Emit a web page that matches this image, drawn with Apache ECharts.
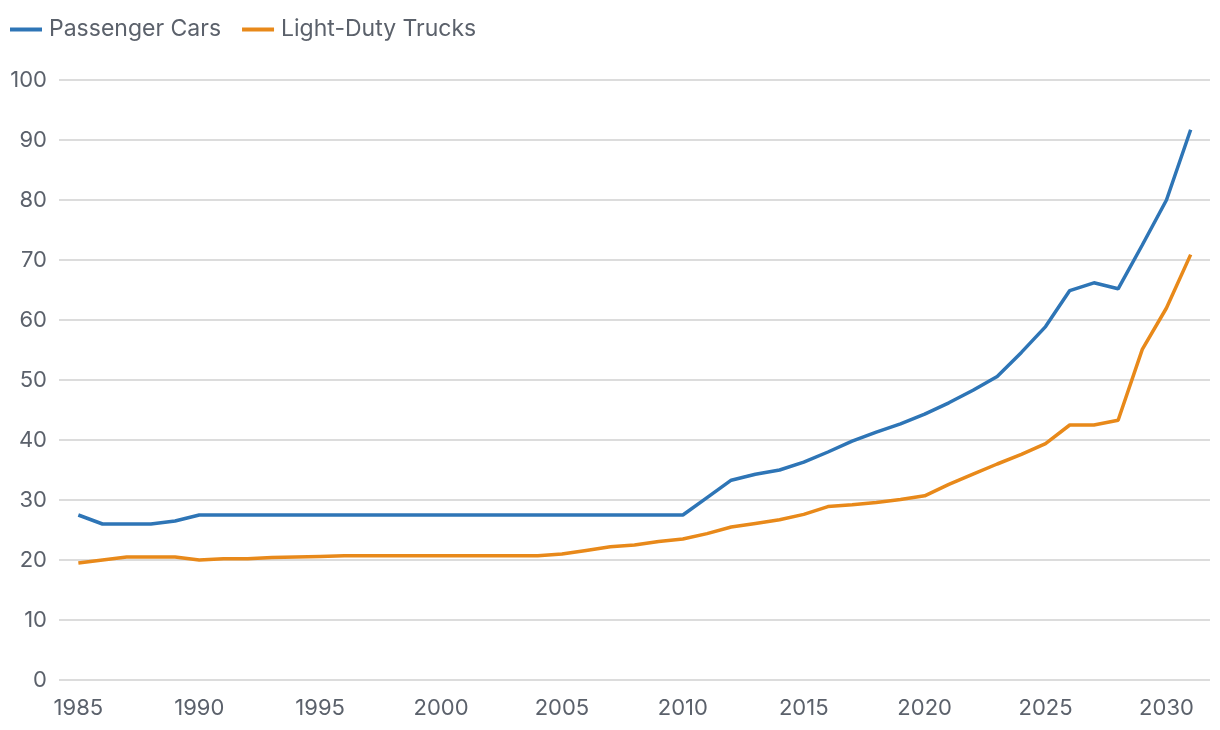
<!DOCTYPE html>
<html>
<head>
<meta charset="utf-8">
<script src="https://cdn.jsdelivr.net/npm/echarts@6/dist/echarts.min.js"></script>
<style>
html,body{margin:0;padding:0;background:#fff;}
#chart{width:1220px;height:730px;}
</style>
</head>
<body>
<div id="chart"></div>
<script>
const years = [];
for (let y = 1985; y <= 2031; y++) years.push(y);

const passengerCars = [
  27.5, 26.0, 26.0, 26.0, 26.5, 27.5, 27.5, 27.5, 27.5, 27.5,
  27.5, 27.5, 27.5, 27.5, 27.5, 27.5, 27.5, 27.5, 27.5, 27.5,
  27.5, 27.5, 27.5, 27.5, 27.5, 27.5, 30.4, 33.3, 34.3, 35.0,
  36.3, 38.0, 39.8, 41.3, 42.7, 44.3, 46.2, 48.3, 50.6, 54.6,
  58.9, 64.9, 66.2, 65.2, 72.5, 80.0, 91.7
];
const lightTrucks = [
  19.5, 20.0, 20.5, 20.5, 20.5, 20.0, 20.2, 20.2, 20.4, 20.5,
  20.6, 20.7, 20.7, 20.7, 20.7, 20.7, 20.7, 20.7, 20.7, 20.7,
  21.0, 21.6, 22.2, 22.5, 23.1, 23.5, 24.4, 25.5, 26.1, 26.7,
  27.6, 28.9, 29.2, 29.6, 30.1, 30.7, 32.6, 34.3, 36.0, 37.6,
  39.4, 42.5, 42.5, 43.3, 55.1, 62.0, 70.9
];
const xTickLabels = [1985, 1990, 1995, 2000, 2005, 2010, 2015, 2020, 2025, 2030];

const textColor = '#5b616b';
const fontFamily = 'Inter, "Noto Sans", sans-serif';

const chart = echarts.init(document.getElementById('chart'));
chart.setOption({
  animation: false,
  backgroundColor: '#ffffff',
  textStyle: { fontFamily: fontFamily },
  legend: {
    left: 10,
    top: 18,
    padding: 0,
    itemWidth: 32,
    itemHeight: 4,
    itemGap: 21,
    icon: 'rect',
    textStyle: { color: textColor, fontSize: 23, fontFamily: fontFamily, padding: [0, 0, 0, 2] },
    data: ['Passenger Cars', 'Light-Duty Trucks']
  },
  grid: { left: 59, right: 10, top: 80, bottom: 50, containLabel: false },
  xAxis: {
    type: 'value',
    min: 1984.2,
    max: 2031.8,
    splitLine: { show: false },
    axisLine: { show: false },
    axisTick: { show: false },
    axisLabel: {
      customValues: xTickLabels,
      color: textColor,
      fontSize: 22,
      margin: 17,
      fontFamily: fontFamily,
      formatter: v => String(v)
    }
  },
  yAxis: {
    type: 'value',
    min: 0,
    max: 100,
    interval: 10,
    axisLine: { show: false },
    axisTick: { show: false },
    splitLine: { lineStyle: { color: '#d0d0d0', width: 1.6 } },
    axisLabel: { color: textColor, fontSize: 22, margin: 12, fontFamily: fontFamily }
  },
  series: [
    {
      name: 'Passenger Cars',
      type: 'line',
      data: years.map((y, i) => [y, passengerCars[i]]),
      showSymbol: false,
      symbol: 'none',
      lineStyle: { color: '#2e75b6', width: 3.5 },
      itemStyle: { color: '#2e75b6' }
    },
    {
      name: 'Light-Duty Trucks',
      type: 'line',
      data: years.map((y, i) => [y, lightTrucks[i]]),
      showSymbol: false,
      symbol: 'none',
      lineStyle: { color: '#e8891a', width: 3.5 },
      itemStyle: { color: '#e8891a' }
    }
  ]
});
</script>
</body>
</html>
